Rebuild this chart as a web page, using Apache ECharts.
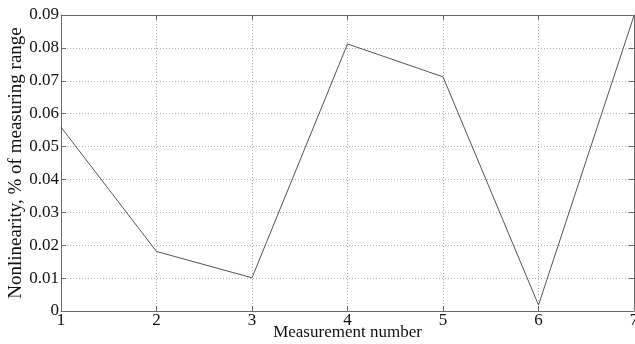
<!DOCTYPE html>
<html><head><meta charset="utf-8">
<script src="https://cdn.jsdelivr.net/npm/echarts@6/dist/echarts.min.js"></script>
<style>html,body{margin:0;padding:0;background:#fff}#c{width:635px;height:344px}</style>
</head><body><div id="c"></div>
<script>
var measurements = [1, 2, 3, 4, 5, 6, 7];
var nonlinearity = [0.0559, 0.0181, 0.0101, 0.0812, 0.0712, 0.0018, 0.0898];
var yTicks = [0, 0.01, 0.02, 0.03, 0.04, 0.05, 0.06, 0.07, 0.08, 0.09];
var xTitle = 'Measurement number';
var yTitle = 'Nonlinearity, % of measuring range';

var font = 'Liberation Serif';
var axisColor = '#6a6a6a';
var gridLine = {show: true, lineStyle: {color: '#b0b0b0', type: [1, 2], width: 1}};
var chart = echarts.init(document.getElementById('c'), null, {renderer: 'canvas'});
chart.setOption({
  animation: false,
  grid: {left: 61, right: 1, top: 15, bottom: 33, containLabel: false, outerBoundsMode: 'none'},
  xAxis: [{
    type: 'value', min: 1, max: 7, interval: 1,
    axisLine: {show: true, onZero: false, lineStyle: {color: axisColor}},
    axisTick: {show: true, inside: true, length: 5, lineStyle: {color: axisColor}},
    axisLabel: {color: '#111', fontFamily: font, fontSize: 17, margin: 1},
    splitLine: gridLine,
    name: xTitle, nameLocation: 'middle', nameGap: 13, nameMoveOverlap: false,
    nameTextStyle: {color: '#111', fontFamily: font, fontSize: 17}
  }, {
    type: 'value', position: 'top', min: 1, max: 7, interval: 1,
    axisLine: {show: true, onZero: false, lineStyle: {color: axisColor}},
    axisTick: {show: true, inside: true, length: 5, lineStyle: {color: axisColor}},
    axisLabel: {show: false}, splitLine: {show: false}
  }],
  yAxis: [{
    type: 'value', min: yTicks[0], max: yTicks[yTicks.length - 1], interval: 0.01,
    axisLine: {show: true, onZero: false, lineStyle: {color: axisColor}},
    axisTick: {show: true, inside: true, length: 5, lineStyle: {color: axisColor}},
    axisLabel: {color: '#111', fontFamily: font, fontSize: 17, margin: 2,
      formatter: function (v) { return v === 0 ? '0' : v.toFixed(2); }},
    splitLine: gridLine,
    name: yTitle, nameLocation: 'middle', nameGap: 35, nameMoveOverlap: false,
    nameTextStyle: {color: '#111', fontFamily: font, fontSize: 19}
  }, {
    type: 'value', position: 'right', min: 0, max: 0.09, interval: 0.01,
    axisLine: {show: true, onZero: false, lineStyle: {color: axisColor}},
    axisTick: {show: true, inside: true, length: 5, lineStyle: {color: axisColor}},
    axisLabel: {show: false}, splitLine: {show: false}
  }],
  series: [{
    type: 'line',
    data: measurements.map(function (m, i) { return [m, nonlinearity[i]]; }),
    showSymbol: false, symbol: 'none',
    lineStyle: {color: '#555', width: 1}
  }]
});
</script></body></html>
